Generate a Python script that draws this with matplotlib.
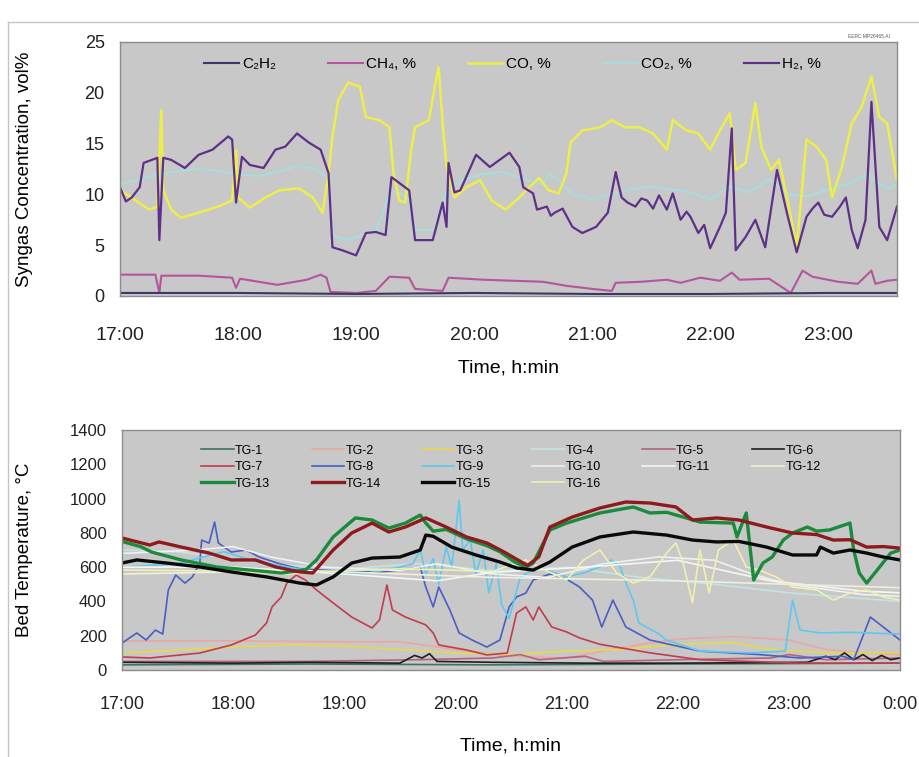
import matplotlib
matplotlib.use("Agg")
import matplotlib.pyplot as plt
from matplotlib.lines import Line2D

plt.rcParams['font.family'] = ['Liberation Sans', 'DejaVu Sans']

# ---- syngas composition, minutes after 17:00 ----
h2_min = [0, 3, 6, 10, 12, 19, 20, 22, 26, 33, 40, 47, 55, 57, 59, 62, 66, 73, 79, 84,
          90, 96, 102, 106, 108, 113, 120, 125, 130, 135, 138, 147, 150, 159, 164, 166, 167, 170, 173, 181,
          188, 193, 198, 203, 205, 210, 212, 217, 219, 221, 225, 230, 235, 242, 248, 252, 255, 258, 262, 265,
          268, 271, 274, 278, 281, 285, 288, 290, 294, 297, 300, 305, 308, 311, 313, 318, 323, 328, 334, 339,
          344, 349, 352, 355, 358, 362, 366, 369, 372, 375, 379, 382, 386, 390, 395]
h2_val = [10.7, 9.3, 9.7, 10.7, 13.1, 13.6, 5.5, 13.6, 13.4, 12.6, 13.9, 14.4, 15.7, 15.4, 9.2, 13.7, 12.9, 12.6, 14.4, 14.7,
          16.0, 15.1, 14.4, 12.1, 4.8, 4.5, 4.0, 6.2, 6.3, 6.0, 11.7, 10.4, 5.5, 5.5, 9.2, 6.8, 13.1, 10.2, 10.4, 13.9,
          12.7, 13.4, 14.1, 12.7, 10.7, 10.1, 8.5, 8.8, 7.9, 8.2, 8.6, 6.8, 6.2, 6.8, 8.2, 12.2, 9.7, 9.2, 8.8, 9.6,
          9.4, 8.6, 9.9, 8.5, 10.1, 7.5, 8.3, 7.8, 6.2, 7.0, 4.7, 6.8, 8.2, 16.5, 4.5, 5.8, 7.5, 4.8, 12.4, 8.2,
          4.3, 7.8, 8.6, 9.2, 8.0, 7.8, 8.8, 9.7, 6.5, 4.7, 7.5, 19.1, 6.8, 5.5, 8.8]

co_min = [0, 8, 15, 19, 21, 22, 26, 31, 40, 50, 57, 59, 60, 66, 74, 81, 91, 98, 103, 106,
          108, 111, 116, 122, 125, 132, 137, 139, 142, 145, 148, 150, 157, 161, 162, 164, 166, 170, 176, 183,
          189, 196, 203, 208, 213, 218, 223, 227, 229, 235, 244, 250, 257, 264, 271, 278, 281, 288, 294, 300,
          305, 310, 313, 318, 323, 326, 331, 335, 340, 344, 349, 354, 359, 362, 367, 372, 377, 382, 386, 390, 395]
co_val = [10.4, 9.4, 8.5, 8.8, 18.3, 10.4, 8.5, 7.7, 8.2, 8.8, 9.4, 14.4, 9.7, 8.7, 9.7, 10.4, 10.6, 9.7, 8.2, 12.0,
          15.7, 19.3, 21.0, 20.6, 17.6, 17.3, 16.6, 12.1, 9.4, 9.2, 14.4, 16.6, 17.3, 21.6, 22.5, 17.0, 12.7, 9.7, 10.7, 11.4,
          9.4, 8.5, 9.7, 10.7, 11.6, 10.4, 10.1, 12.1, 15.1, 16.3, 16.6, 17.3, 16.6, 16.6, 16.0, 14.4, 17.3, 16.3, 16.0, 14.4,
          16.3, 18.0, 12.4, 13.1, 19.0, 14.7, 12.4, 13.4, 8.8, 4.8, 15.4, 14.7, 13.4, 9.7, 12.7, 17.0, 18.6, 21.6, 17.6, 17.0, 11.4]

co2_min = [0, 10, 20, 30, 40, 50, 60, 70, 80, 90, 100, 106, 108, 115, 120, 130, 138, 147, 150, 160,
           166, 175, 185, 195, 205, 215, 218, 222, 230, 240, 250, 260, 270, 280, 290, 300, 310, 320, 330, 340,
           350, 360, 370, 380, 390, 395]
co2_val = [11.0, 11.5, 12.0, 12.3, 12.5, 12.3, 12.0, 11.8, 12.2, 12.8, 12.5, 11.5, 6.0, 5.5, 5.8, 6.5, 10.5, 9.5, 6.5, 6.5,
           10.5, 11.5, 12.0, 12.2, 11.5, 11.0, 12.0, 11.5, 10.0, 9.5, 10.0, 10.5, 10.8, 10.5, 10.2, 9.5, 10.8, 10.2, 11.5, 10.0,
           9.8, 10.5, 11.0, 12.0, 10.5, 11.0]

ch4_min = [0, 18, 20, 21, 40, 57, 59, 61, 80, 95, 102, 105, 107, 120, 130, 137, 147, 150, 164, 167,
           185, 200, 215, 227, 240, 250, 252, 265, 278, 285, 295, 305, 311, 315, 330, 341, 347, 352, 365, 375,
           382, 384, 390, 395]
ch4_val = [2.1, 2.1, 0.3, 2.0, 2.0, 1.8, 0.8, 1.7, 1.1, 1.6, 2.1, 1.8, 0.4, 0.3, 0.5, 1.9, 1.8, 0.7, 0.5, 1.8,
           1.6, 1.5, 1.4, 1.0, 0.7, 0.5, 1.3, 1.4, 1.6, 1.3, 1.8, 1.5, 2.3, 1.6, 1.7, 0.3, 2.5, 1.9, 1.4, 1.2,
           2.5, 1.2, 1.5, 1.6]

c2h2_min = [0, 60, 120, 180, 240, 300, 360, 395]
c2h2_val = [0.3, 0.3, 0.2, 0.3, 0.2, 0.2, 0.3, 0.3]

# ---- bed thermocouples TG-1..TG-16, minutes after 17:00 ----
tg_min = {
    1: [0, 100, 200, 300, 420],
    2: [0, 60, 120, 150, 180, 210, 240, 280, 300, 330, 360, 380, 400, 420],
    3: [0, 20, 60, 90, 120, 150, 180, 210, 240, 270, 300, 330, 350, 380, 420],
    4: [0, 30, 60, 90, 120, 160, 200, 240, 280, 320, 360, 420],
    5: [0, 100, 160, 200, 215, 225, 250, 260, 300, 350, 360, 380, 420],
    6: [0, 60, 100, 150, 158, 162, 166, 170, 200, 250, 300, 370, 380, 385, 390, 395, 400, 405, 410, 415, 420],
    7: [0, 15, 42, 59, 72, 78, 81, 86, 89, 94, 99, 105, 114, 124, 135, 139, 143, 146, 153, 164,
        168, 171, 186, 197, 208, 213, 218, 222, 225, 232, 240, 247, 258, 285, 312, 366, 420],
    8: [0, 8, 13, 18, 22, 25, 29, 34, 38, 42, 43, 47, 50, 52, 59, 67, 74, 85, 96, 112,
        139, 155, 161, 164, 168, 171, 177, 182, 189, 197, 204, 209, 213, 218, 222, 231, 240, 247, 254, 259,
        265, 272, 285, 312, 344, 366, 389, 395, 404, 420],
    9: [0, 30, 55, 70, 100, 130, 150, 157, 161, 164, 168, 171, 175, 178, 182, 184, 188, 191, 195, 198,
        202, 205, 209, 215, 225, 240, 249, 258, 264, 269, 272, 276, 279, 289, 294, 312, 339, 358, 362, 366,
        377, 393, 420],
    10: [0, 40, 60, 80, 110, 150, 170, 200, 230, 260, 290, 320, 340, 360, 380, 400, 420],
    11: [0, 60, 120, 170, 200, 250, 300, 350, 400, 420],
    12: [0, 100, 200, 300, 420],
    13: [0, 10, 16, 32, 51, 69, 86, 99, 105, 114, 126, 135, 144, 153, 161, 164, 168, 175, 186, 197,
         204, 212, 218, 222, 231, 240, 258, 276, 285, 294, 303, 312, 330, 332, 337, 341, 346, 351, 357, 362,
         370, 375, 382, 393, 395, 398, 402, 409, 415, 420],
    14: [0, 15, 20, 32, 47, 59, 72, 83, 96, 103, 114, 124, 135, 144, 153, 164, 175, 186, 197, 206,
         214, 219, 225, 231, 243, 258, 272, 285, 299, 308, 321, 333, 348, 362, 375, 384, 393, 402, 411, 420],
    15: [0, 8, 24, 42, 59, 78, 96, 105, 114, 124, 135, 150, 161, 164, 168, 178, 191, 204, 213, 222,
         231, 243, 258, 276, 294, 308, 321, 333, 348, 362, 375, 377, 384, 393, 402, 411, 420],
    16: [0, 30, 60, 90, 110, 150, 170, 200, 218, 225, 240, 249, 258, 267, 276, 285, 294, 299, 303, 308,
         312, 317, 322, 330, 337, 344, 353, 362, 375, 384, 393, 402, 411, 420],
}
tg_val = {
    1: [30, 35, 30, 35, 40],
    2: [170, 170, 165, 165, 120, 80, 70, 150, 180, 195, 175, 120, 100, 90],
    3: [100, 110, 135, 146, 140, 120, 100, 90, 110, 120, 150, 160, 120, 100, 100],
    4: [700, 690, 650, 610, 590, 620, 580, 600, 540, 500, 450, 400],
    5: [50, 50, 60, 70, 90, 60, 80, 50, 60, 70, 90, 60, 70],
    6: [45, 40, 45, 40, 85, 70, 95, 50, 45, 40, 40, 45, 80, 60, 100, 60, 90, 55, 85, 60, 70],
    7: [76, 70, 99, 146, 204, 274, 368, 426, 507, 554, 525, 467, 391, 309, 245, 292, 496, 350, 309, 263,
        216, 146, 117, 88, 99, 332, 368, 292, 368, 251, 222, 187, 150, 100, 60, 40, 40],
    8: [157, 216, 175, 233, 210, 467, 554, 507, 543, 624, 758, 740, 863, 741, 688, 700, 659, 620, 590, 580,
        570, 590, 601, 484, 368, 484, 350, 216, 175, 134, 175, 368, 426, 449, 525, 560, 530, 484, 408, 251,
        408, 251, 175, 110, 90, 70, 80, 60, 309, 175],
    9: [600, 620, 690, 640, 580, 560, 600, 620, 700, 560, 650, 500, 720, 600, 990, 700, 760, 560, 700, 450,
        620, 380, 300, 543, 601, 543, 566, 601, 642, 601, 507, 408, 274, 216, 175, 110, 100, 110, 408, 233,
        216, 220, 210],
    10: [680, 700, 720, 660, 600, 580, 620, 560, 540, 620, 660, 640, 560, 500, 470, 440, 430],
    11: [600, 600, 560, 520, 570, 600, 640, 520, 460, 450],
    12: [560, 580, 540, 520, 480],
    13: [750, 720, 688, 642, 601, 583, 566, 583, 642, 776, 887, 875, 828, 857, 904, 857, 810, 820, 765, 725,
         690, 630, 600, 624, 817, 857, 916, 951, 916, 920, 892, 863, 857, 776, 916, 525, 624, 659, 758, 799,
         834, 810, 817, 857, 700, 566, 507, 601, 682, 700],
    14: [770, 729, 747, 717, 682, 642, 642, 601, 572, 566, 700, 799, 857, 805, 834, 887, 834, 776, 741, 690,
         640, 610, 660, 834, 892, 945, 980, 974, 951, 875, 887, 875, 834, 799, 790, 758, 760, 717, 720, 711],
    15: [624, 642, 624, 601, 572, 543, 507, 496, 543, 624, 653, 659, 700, 787, 780, 717, 671, 630, 595, 583,
         630, 717, 776, 805, 787, 758, 747, 750, 717, 671, 671, 717, 682, 700, 682, 659, 642],
    16: [583, 580, 575, 560, 575, 590, 585, 575, 642, 600, 525, 640, 700, 566, 507, 543, 682, 741, 620, 391,
         700, 449, 700, 758, 601, 583, 543, 484, 467, 408, 449, 467, 426, 408],
}
tg_color = {1: '#3f7263', 2: '#eaa8a0', 3: '#e8d84a', 4: '#c4e4e4', 5: '#b46282', 6: '#1e1e24',
            7: '#c23c4c', 8: '#4a5ec4', 9: '#5ec8f0', 10: '#eef2f2', 11: '#f6f6f2', 12: '#f0eedc',
            13: '#1a8a3c', 14: '#8e1a1e', 15: '#0a0a0a', 16: '#f2f0b0'}
tg_thick = [13, 14, 15]


def hours(minutes):
    return [17 + m / 60 for m in minutes]


fig = plt.figure(figsize=(9.2, 7.57), dpi=100)

# outer frame of the plate
fig.add_artist(Line2D([8 / 920, 8 / 920], [0, 1 - 22 / 757], transform=fig.transFigure,
                      color='#c4c4c4', lw=1))
fig.add_artist(Line2D([8 / 920, 1], [1 - 22 / 757, 1 - 22 / 757], transform=fig.transFigure,
                      color='#c4c4c4', lw=1))
fig.text(0.945, 1 - 36 / 757, 'EERC MP28465.AI', fontsize=3.5, color='#555555', ha='center', va='center')

ax1 = fig.add_axes([120 / 920, 1 - 296 / 757, 777 / 920, 254 / 757])
ax2 = fig.add_axes([122 / 920, 1 - 670 / 757, 778 / 920, 240 / 757])

for ax in (ax1, ax2):
    ax.set_facecolor('#c8c8c8')
    for s in ax.spines.values():
        s.set_color('#8c8c8c')
        s.set_linewidth(1.0)
    ax.tick_params(length=0, colors='#222222')

# top: syngas
l_co2, = ax1.plot(hours(co2_min), co2_val, color='#aadcdc', lw=1.6)
l_co, = ax1.plot(hours(co_min), co_val, color='#eeee4a', lw=1.8)
l_ch4, = ax1.plot(hours(ch4_min), ch4_val, color='#b4559e', lw=1.5)
l_h2, = ax1.plot(hours(h2_min), h2_val, color='#5e3088', lw=1.6)
l_c2h2, = ax1.plot(hours(c2h2_min), c2h2_val, color='#3a3a6a', lw=1.5)

ax1.set_xlim(17, 17 + 395 / 60)
ax1.set_ylim(0, 25)
ax1.set_yticks([0, 5, 10, 15, 20, 25])
ax1.set_xticks(range(17, 24))
ax1.set_xticklabels([f'{h}:00' for h in range(17, 24)], fontsize=14)
ax1.tick_params(axis='x', pad=22)
ax1.tick_params(axis='y', labelsize=13, pad=11)
ax1.set_ylabel('Syngas Concentration, vol%', fontsize=13.5)
ax1.yaxis.set_label_coords(-0.112, 0.5)
ax1.set_xlabel('Time, h:min', fontsize=14)
ax1.xaxis.set_label_coords(0.5, -0.25)

ax1.legend([l_c2h2, l_ch4, l_co, l_co2, l_h2],
           ['C₂H₂', 'CH₄, %', 'CO, %', 'CO₂, %', 'H₂, %'],
           loc='upper center', bbox_to_anchor=(0.505, 0.995), ncol=5, frameon=False,
           fontsize=11, handlelength=2.3, columnspacing=3.4, handletextpad=0.2)

# bottom: bed temperatures, thin traces first, heavy ones on top
handles = {}
for k in range(1, 17):
    if k in tg_thick:
        continue
    handles[k], = ax2.plot(hours(tg_min[k]), tg_val[k], color=tg_color[k], lw=1.2)
for k in tg_thick:
    handles[k], = ax2.plot(hours(tg_min[k]), tg_val[k], color=tg_color[k], lw=2.4)

ax2.set_xlim(17, 24)
ax2.set_ylim(0, 1400)
ax2.set_yticks(range(0, 1401, 200))
ax2.set_xticks(range(17, 25))
ax2.set_xticklabels([f'{h}:00' for h in range(17, 24)] + ['0:00'], fontsize=13)
ax2.tick_params(axis='x', pad=19)
ax2.tick_params(axis='y', labelsize=12, pad=11)
ax2.set_ylabel('Bed Temperature, °C', fontsize=13.5)
ax2.yaxis.set_label_coords(-0.115, 0.5)
ax2.set_xlabel('Time, h:min', fontsize=14)
ax2.xaxis.set_label_coords(0.5, -0.28)

order = [1, 7, 13, 2, 8, 14, 3, 9, 15, 4, 10, 16, 5, 11, 6, 12]
ax2.legend([handles[k] for k in order], [f'TG-{k}' for k in order],
           loc='upper center', bbox_to_anchor=(0.5, 0.985), ncol=6, frameon=False,
           fontsize=9, handlelength=2.6, columnspacing=3.3, handletextpad=0.1,
           labelspacing=0.35)

fig.savefig('out.png', dpi=100)
